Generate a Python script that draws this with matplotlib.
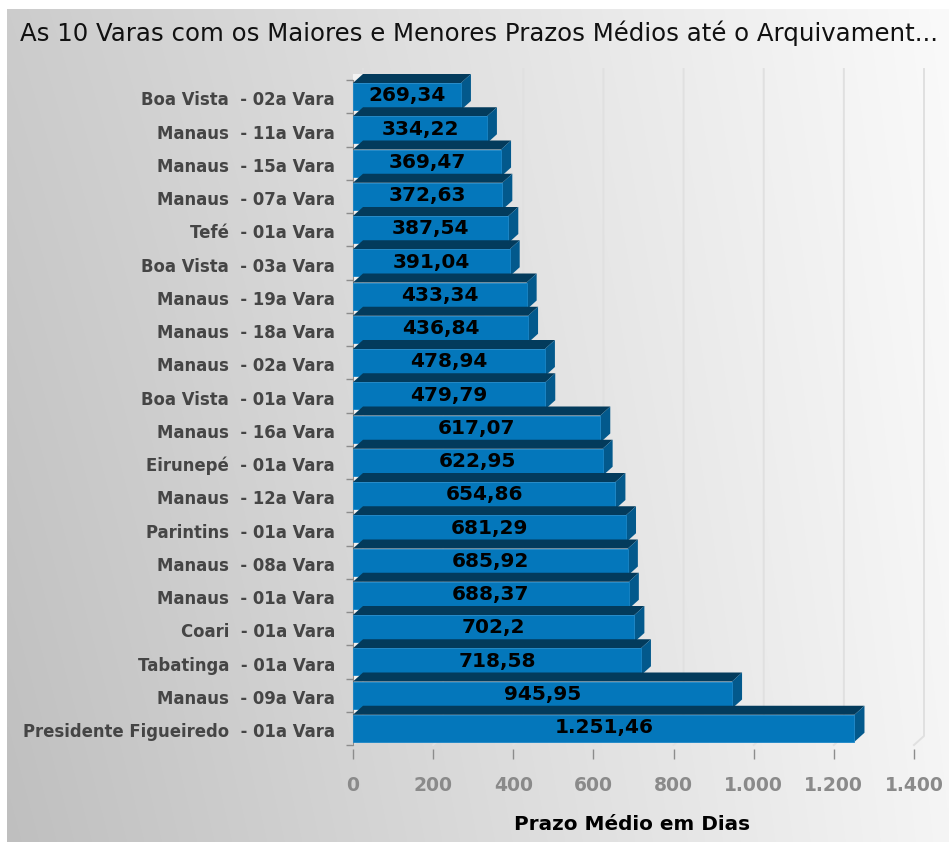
import matplotlib
matplotlib.use("Agg")
import matplotlib.pyplot as plt
from matplotlib.patches import Polygon
from matplotlib.ticker import FixedLocator, NullFormatter
import numpy as np

# --- data (top to bottom, as in the chart) ---
varas = [
    "Boa Vista  - 02a Vara", "Manaus  - 11a Vara", "Manaus  - 15a Vara",
    "Manaus  - 07a Vara", "Tefé  - 01a Vara", "Boa Vista  - 03a Vara",
    "Manaus  - 19a Vara", "Manaus  - 18a Vara", "Manaus  - 02a Vara",
    "Boa Vista  - 01a Vara", "Manaus  - 16a Vara", "Eirunepé  - 01a Vara",
    "Manaus  - 12a Vara", "Parintins  - 01a Vara", "Manaus  - 08a Vara",
    "Manaus  - 01a Vara", "Coari  - 01a Vara", "Tabatinga  - 01a Vara",
    "Manaus  - 09a Vara", "Presidente Figueiredo  - 01a Vara",
]
prazo_medio = [
    269.34, 334.22, 369.47, 372.63, 387.54, 391.04, 433.34, 436.84, 478.94,
    479.79, 617.07, 622.95, 654.86, 681.29, 685.92, 688.37, 702.2, 718.58,
    945.95, 1251.46,
]
x_ticks = [0, 200, 400, 600, 800, 1000, 1200, 1400]

title = "As 10 Varas com os Maiores e Menores Prazos Médios até o Arquivament..."
x_label = "Prazo Médio em Dias"

W, H = 949, 842
FRONT = "#0477bb"
TOP = "#033b5c"
SIDE = "#03598c"


def br_num(v):
    # java-like "#,##0.##" with pt-BR separators
    s = f"{v:,.2f}".rstrip("0").rstrip(".")
    return s.replace(",", "#").replace(".", ",").replace("#", ".")


fig = plt.figure(figsize=(W / 100, H / 100), dpi=100)

# background gradient (grey left -> near white right)
bg = fig.add_axes([0, 0, 1, 1])
bg.axis("off")
xx, yy = np.meshgrid(np.linspace(0, 1, 300), np.linspace(0, 1, 300))
grey = 0.80 - 0.05 * yy + (0.18 + 0.03 * yy) * xx
grey = np.clip(grey, 0, 1)
bg.imshow(np.dstack([grey, grey, grey]), extent=[7, W, H, 9], aspect="auto",
          interpolation="bilinear", zorder=0)
bg.set_xlim(0, W)
bg.set_ylim(H, 0)

# plot area (front plane): 0 at px 353, 1400 at px 914, bands from y=80 to 745
left, right, top, bottom = 353, 914, 80, 745
ax = fig.add_axes([left / W, (H - bottom) / H, (right - left) / W, (bottom - top) / H])
ax.patch.set_visible(False)
ax.set_xlim(0, 1400)
ax.set_ylim(len(varas), 0)

px_x = 1400 / (right - left)
px_y = len(varas) / (bottom - top)
dx = 10 * px_x      # 3d depth, horizontal
dy = 9 * px_y       # 3d depth, vertical
f_top = 3 * px_y
f_bot = 30 * px_y

# back wall gridlines
for t in x_ticks:
    ax.plot([t + dx, t + dx, t], [-11 * px_y, len(varas) - dy, len(varas)],
            color="#e0e0e0", lw=1.4, clip_on=False, zorder=1)

for k, (name, v) in enumerate(zip(varas, prazo_medio)):
    y0 = k + f_top
    y1 = k + f_bot
    z = 3 + k
    # little light wedge at the left of the top face
    ax.add_patch(Polygon([(0, y0), (0, y0 - dy), (dx, y0 - dy)], closed=True,
                         facecolor="#f2f2f2", edgecolor="none", clip_on=False, zorder=2))
    ax.add_patch(Polygon([(0, y0), (v, y0), (v + dx, y0 - dy), (dx, y0 - dy)], closed=True,
                         facecolor=TOP, edgecolor="none", clip_on=False, zorder=z))
    ax.add_patch(Polygon([(v, y0), (v + dx, y0 - dy), (v + dx, y1 - dy), (v, y1)], closed=True,
                         facecolor=SIDE, edgecolor="none", clip_on=False, zorder=z))
    ax.add_patch(Polygon([(0, y0), (v, y0), (v, y1), (0, y1)], closed=True,
                         facecolor=FRONT, edgecolor="#1a86c8", lw=0.6, clip_on=False, zorder=z))
    ax.text(v / 2, k + 0.48, br_num(v), ha="center", va="center", fontsize=14.5,
            fontweight="bold", color="black", zorder=z + 0.5, clip_on=False)

# axes styling
for s in ("top", "right"):
    ax.spines[s].set_visible(False)
ax.spines["left"].set_color("#8c8c8c")
ax.spines["bottom"].set_visible(False)
ax.spines["bottom"].set_position(("outward", 3))

ax.set_xticks(x_ticks)
ax.set_xticklabels([f"{t:,}".replace(",", ".") for t in x_ticks])
ax.tick_params(axis="x", direction="out", length=7, width=1, color="#8c8c8c",
               pad=12, labelsize=13.5, labelcolor="#8a8a8a")
for lbl in ax.get_xticklabels():
    lbl.set_fontweight("bold")

ax.yaxis.set_major_locator(FixedLocator(np.arange(len(varas) + 1)))
ax.yaxis.set_major_formatter(NullFormatter())
ax.yaxis.set_minor_locator(FixedLocator(np.arange(len(varas)) + 0.55))
ax.set_yticklabels(varas, minor=True)
ax.tick_params(axis="y", which="major", direction="out", length=5, width=1, color="#8c8c8c")
ax.tick_params(axis="y", which="minor", length=0, pad=13, labelsize=11.9, labelcolor="#454545")
for lbl in ax.get_yticklabels(minor=True):
    lbl.set_fontweight("bold")

fig.text(632 / W, 1 - 825 / H, x_label, ha="center", va="center", fontsize=14.4,
         fontweight="bold", color="black")
fig.text(20 / W, 1 - 41 / H, title, ha="left", va="baseline", fontsize=17.6, color="#111111")

fig.savefig("out.png", dpi=100)
